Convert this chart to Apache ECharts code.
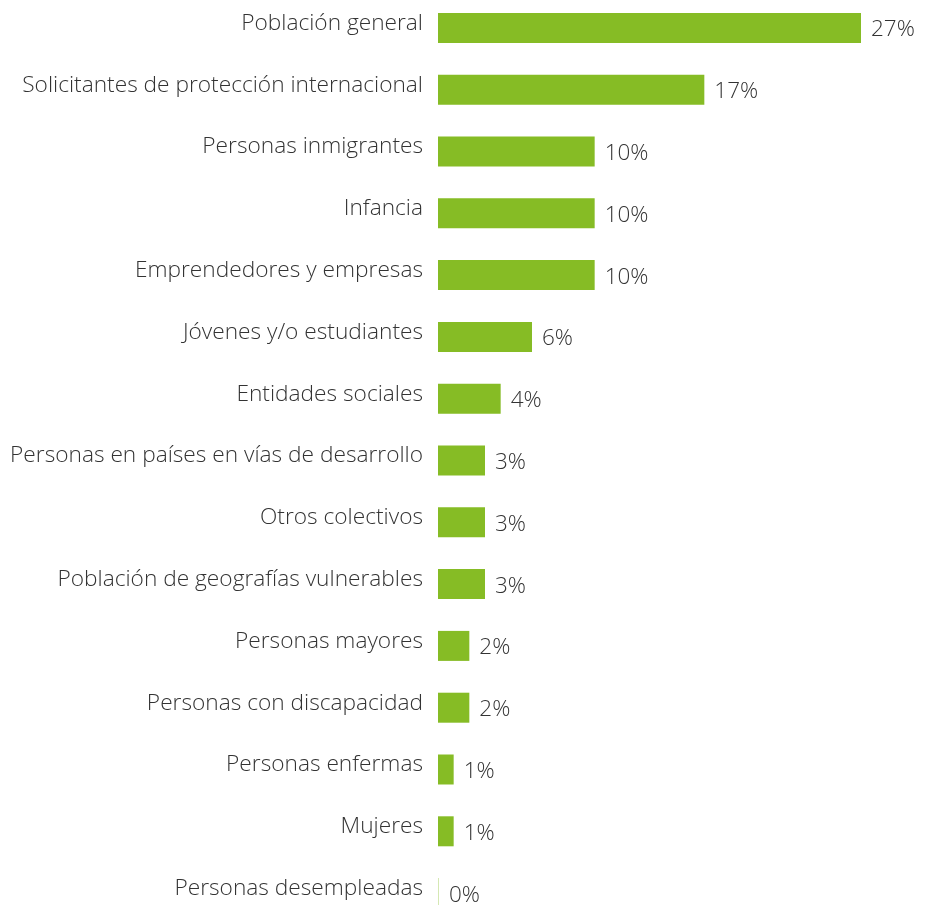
<!DOCTYPE html>
<html>
<head>
<meta charset="utf-8">
<script src="https://cdn.jsdelivr.net/npm/echarts@6/dist/echarts.min.js"></script>
<style>
  html, body { margin: 0; padding: 0; background: #ffffff; overflow: hidden; }
  #chart { width: 932px; height: 927px; margin-top: -3px; }
</style>
</head>
<body>
<div id="chart"></div>
<script>
// Beneficiary groups, top to bottom
const categories = [
  'Población general',
  'Solicitantes de protección internacional',
  'Personas inmigrantes',
  'Infancia',
  'Emprendedores y empresas',
  'Jóvenes y/o estudiantes',
  'Entidades sociales',
  'Personas en países en vías de desarrollo',
  'Otros colectivos',
  'Población de geografías vulnerables',
  'Personas mayores',
  'Personas con discapacidad',
  'Personas enfermas',
  'Mujeres',
  'Personas desempleadas'
];

// Share of each group, in percent
const shares = [27, 17, 10, 10, 10, 6, 4, 3, 3, 3, 2, 2, 1, 1, 0];

const GREEN = '#86bc25';
const GREEN_FAINT = 'rgba(134, 188, 37, 0.35)';
const FONT = '"Open Sans", "Noto Sans", sans-serif';

const chart = echarts.init(document.getElementById('chart'), null, { renderer: 'canvas' });

chart.setOption({
  animation: false,
  grid: { left: 438, right: 24, top: 0, bottom: 0, containLabel: false },
  xAxis: {
    type: 'value',
    min: 0,
    max: 30,
    show: false
  },
  yAxis: {
    type: 'category',
    inverse: true,
    data: categories,
    axisLine: { show: false },
    axisTick: { show: false },
    splitLine: { show: false },
    axisLabel: {
      margin: 15,
      color: '#333333',
      fontFamily: FONT,
      fontWeight: 300,
      fontSize: 22.7,
      // a short line box anchored at its bottom lifts the text a little above the bar centre
      verticalAlign: 'bottom',
      lineHeight: 9
    }
  },
  series: [{
    type: 'bar',
    data: shares.map(v => ({
      value: v,
      itemStyle: { color: v === 0 ? GREEN_FAINT : GREEN }
    })),
    barWidth: 30,
    barMinHeight: 1,
    label: {
      show: true,
      position: 'right',
      distance: 10,
      offset: [0, 2],
      color: '#333333',
      fontFamily: FONT,
      fontWeight: 300,
      fontSize: 22.5,
      formatter: p => p.value + '%'
    }
  }]
});
</script>
</body>
</html>
